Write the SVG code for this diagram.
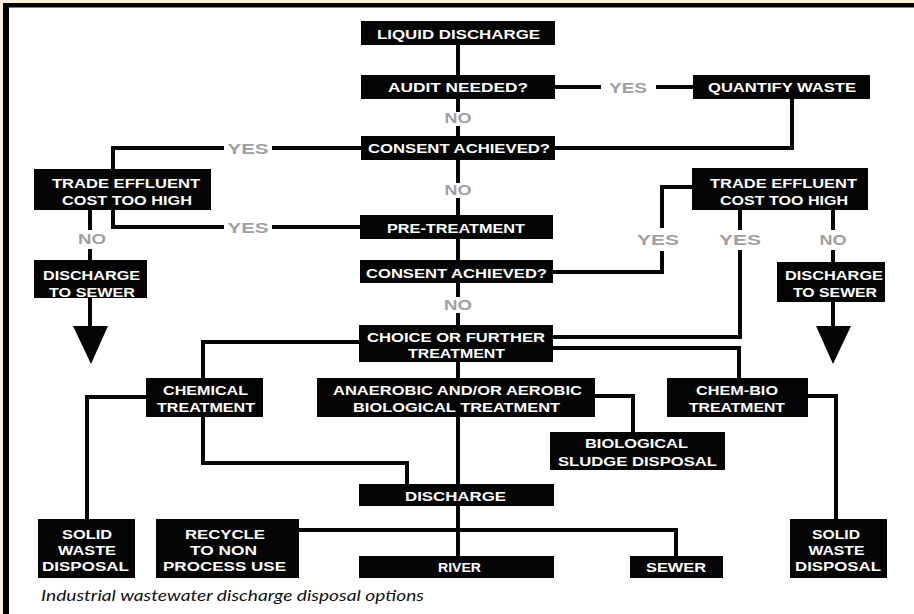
<svg xmlns="http://www.w3.org/2000/svg" width="914" height="614" viewBox="0 0 914 614">
<style>
.b{fill:#050505}
.t{fill:#fff;font-family:"Liberation Sans",Arial,sans-serif;font-weight:bold;font-size:13.5px;text-anchor:middle}
.l{fill:#a0a0a0;font-family:"Liberation Sans",Arial,sans-serif;font-weight:bold;font-size:14px;text-anchor:middle}
.c{fill:none;stroke:#050505;stroke-width:4}
.cap{fill:#111;font-family:Lato,"Open Sans",sans-serif;font-style:italic;font-size:15px}
</style>
<rect x="0" y="0" width="914" height="614" fill="#fff"/>
<rect x="0" y="0" width="914" height="3" fill="#fdf0dc"/>
<rect x="0" y="0" width="3" height="614" fill="#fdf0dc"/>
<rect x="3" y="3" width="911" height="4.5" fill="#000"/>
<rect x="3" y="3" width="6" height="611" fill="#000"/>

<g id="connectors">
<path class="c" d="M458,45V75 M458,99V112 M458,126V136 M458,160V183 M458,198V215 M458,239V260 M458,283V297 M458,313V325 M458,362V378 M458,417V484 M458,506V556"/>
<path class="c" d="M555,87H601 M656,87H693"/>
<path class="c" d="M792,99V148H555"/>
<path class="c" d="M361,148H272 M224,148H113V227H224 M272,227H360"/>
<path class="c" d="M90,210V230 M90,249V260 M90,298V328"/>
<polygon points="73,326 108,326 91,364" fill="#050505"/>
<path class="c" d="M553,272H662V251 M662,228V187H692"/>
<path class="c" d="M740,210V230 M740,250V337H553"/>
<path class="c" d="M833,210V230 M833,250V262 M833,302V328"/>
<polygon points="816,326 851,326 833,364" fill="#050505"/>
<path class="c" d="M553,348H739V378"/>
<path class="c" d="M359,342H203V378"/>
<path class="c" d="M146,397H87V519"/>
<path class="c" d="M203,417V463H407V484"/>
<path class="c" d="M595,396H633V432"/>
<path class="c" d="M808,396H836V519"/>
<path class="c" d="M299,530H676V556"/>
</g>

<g id="labels">
<text class="l" x="628" y="93" textLength="38" lengthAdjust="spacingAndGlyphs">YES</text>
<text class="l" x="458" y="123" textLength="27" lengthAdjust="spacingAndGlyphs">NO</text>
<text class="l" x="248" y="154" textLength="41" lengthAdjust="spacingAndGlyphs">YES</text>
<text class="l" x="458" y="195" textLength="27" lengthAdjust="spacingAndGlyphs">NO</text>
<text class="l" x="248" y="233" textLength="41" lengthAdjust="spacingAndGlyphs">YES</text>
<text class="l" x="92" y="244" textLength="28" lengthAdjust="spacingAndGlyphs">NO</text>
<text class="l" x="658" y="245" textLength="42" lengthAdjust="spacingAndGlyphs">YES</text>
<text class="l" x="740" y="245" textLength="42" lengthAdjust="spacingAndGlyphs">YES</text>
<text class="l" x="833" y="245" textLength="27" lengthAdjust="spacingAndGlyphs">NO</text>
<text class="l" x="458" y="310" textLength="28" lengthAdjust="spacingAndGlyphs">NO</text>
</g>

<g id="n-liquid"><rect class="b" x="361" y="21" width="194" height="24"/><text class="t" x="458.5" y="38.5" textLength="163" lengthAdjust="spacingAndGlyphs">LIQUID DISCHARGE</text></g>
<g id="n-audit"><rect class="b" x="361" y="75" width="194" height="24"/><text class="t" x="458" y="92" textLength="140" lengthAdjust="spacingAndGlyphs">AUDIT NEEDED?</text></g>
<g id="n-quantify"><rect class="b" x="693" y="75" width="177" height="24"/><text class="t" x="782" y="92" textLength="148" lengthAdjust="spacingAndGlyphs">QUANTIFY WASTE</text></g>
<g id="n-consent1"><rect class="b" x="361" y="136" width="194" height="24"/><text class="t" x="459" y="153" textLength="182" lengthAdjust="spacingAndGlyphs">CONSENT ACHIEVED?</text></g>
<g id="n-trade-l"><rect class="b" x="34" y="169" width="177" height="41"/><text class="t" x="126" y="188" textLength="148" lengthAdjust="spacingAndGlyphs">TRADE EFFLUENT</text><text class="t" x="127" y="205" textLength="130" lengthAdjust="spacingAndGlyphs">COST TOO HIGH</text></g>
<g id="n-sewer-l"><rect class="b" x="34" y="260" width="113" height="38"/><text class="t" x="91.5" y="280" textLength="97" lengthAdjust="spacingAndGlyphs">DISCHARGE</text><text class="t" x="92" y="297" textLength="86" lengthAdjust="spacingAndGlyphs">TO SEWER</text></g>
<g id="n-pre"><rect class="b" x="360" y="215" width="193" height="24"/><text class="t" x="456" y="233" textLength="138" lengthAdjust="spacingAndGlyphs">PRE-TREATMENT</text></g>
<g id="n-consent2"><rect class="b" x="360" y="260" width="193" height="23"/><text class="t" x="456.5" y="277.5" textLength="181" lengthAdjust="spacingAndGlyphs">CONSENT ACHIEVED?</text></g>
<g id="n-trade-r"><rect class="b" x="692" y="168" width="176" height="42"/><text class="t" x="783.5" y="188" textLength="147" lengthAdjust="spacingAndGlyphs">TRADE EFFLUENT</text><text class="t" x="784" y="205" textLength="128" lengthAdjust="spacingAndGlyphs">COST TOO HIGH</text></g>
<g id="n-sewer-r"><rect class="b" x="777" y="262" width="108" height="40"/><text class="t" x="834" y="280" textLength="98" lengthAdjust="spacingAndGlyphs">DISCHARGE</text><text class="t" x="835" y="297" textLength="84" lengthAdjust="spacingAndGlyphs">TO SEWER</text></g>
<g id="n-choice"><rect class="b" x="359" y="325" width="194" height="37"/><text class="t" x="456" y="342" textLength="178" lengthAdjust="spacingAndGlyphs">CHOICE OR FURTHER</text><text class="t" x="456.5" y="358" textLength="97" lengthAdjust="spacingAndGlyphs">TREATMENT</text></g>
<g id="n-chemical"><rect class="b" x="146" y="378" width="117" height="39"/><text class="t" x="205.5" y="395" textLength="85" lengthAdjust="spacingAndGlyphs">CHEMICAL</text><text class="t" x="206" y="412" textLength="98" lengthAdjust="spacingAndGlyphs">TREATMENT</text></g>
<g id="n-anaerobic"><rect class="b" x="317" y="378" width="278" height="39"/><text class="t" x="457.5" y="395" textLength="249" lengthAdjust="spacingAndGlyphs">ANAEROBIC AND/OR AEROBIC</text><text class="t" x="456.5" y="412" textLength="207" lengthAdjust="spacingAndGlyphs">BIOLOGICAL TREATMENT</text></g>
<g id="n-chembio"><rect class="b" x="667" y="378" width="141" height="39"/><text class="t" x="737" y="395" textLength="82" lengthAdjust="spacingAndGlyphs">CHEM-BIO</text><text class="t" x="737" y="412" textLength="96" lengthAdjust="spacingAndGlyphs">TREATMENT</text></g>
<g id="n-sludge"><rect class="b" x="550" y="432" width="175" height="38"/><text class="t" x="636.5" y="448" textLength="103" lengthAdjust="spacingAndGlyphs">BIOLOGICAL</text><text class="t" x="637.5" y="466" textLength="159" lengthAdjust="spacingAndGlyphs">SLUDGE DISPOSAL</text></g>
<g id="n-discharge"><rect class="b" x="359" y="484" width="195" height="22"/><text class="t" x="455.5" y="500.5" textLength="101" lengthAdjust="spacingAndGlyphs">DISCHARGE</text></g>
<g id="n-solid-l"><rect class="b" x="38" y="519" width="97" height="59"/><text class="t" x="87" y="539" textLength="50" lengthAdjust="spacingAndGlyphs">SOLID</text><text class="t" x="87" y="555" textLength="58" lengthAdjust="spacingAndGlyphs">WASTE</text><text class="t" x="85.5" y="571" textLength="87" lengthAdjust="spacingAndGlyphs">DISPOSAL</text></g>
<g id="n-recycle"><rect class="b" x="156" y="519" width="143" height="59"/><text class="t" x="225" y="539" textLength="80" lengthAdjust="spacingAndGlyphs">RECYCLE</text><text class="t" x="223.5" y="555" textLength="67" lengthAdjust="spacingAndGlyphs">TO NON</text><text class="t" x="224.5" y="571" textLength="123" lengthAdjust="spacingAndGlyphs">PROCESS USE</text></g>
<g id="n-river"><rect class="b" x="359" y="556" width="195" height="22"/><text class="t" x="459.5" y="572" textLength="43" lengthAdjust="spacingAndGlyphs">RIVER</text></g>
<g id="n-sewer"><rect class="b" x="630" y="556" width="93" height="22"/><text class="t" x="676" y="572" textLength="60" lengthAdjust="spacingAndGlyphs">SEWER</text></g>
<g id="n-solid-r"><rect class="b" x="790" y="519" width="97" height="59"/><text class="t" x="836" y="539" textLength="48" lengthAdjust="spacingAndGlyphs">SOLID</text><text class="t" x="836.5" y="555" textLength="56" lengthAdjust="spacingAndGlyphs">WASTE</text><text class="t" x="838" y="571" textLength="86" lengthAdjust="spacingAndGlyphs">DISPOSAL</text></g>

<text class="cap" x="41" y="601" textLength="383" lengthAdjust="spacingAndGlyphs">Industrial wastewater discharge disposal options</text>
</svg>
